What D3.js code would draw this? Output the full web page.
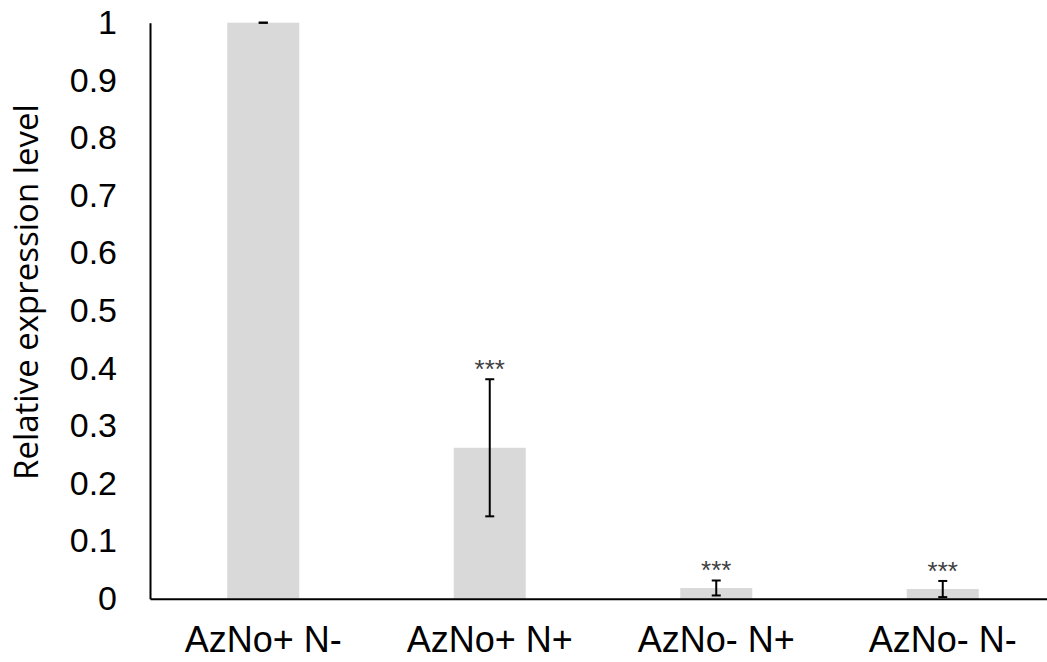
<!DOCTYPE html>
<html>
<head>
<script src="https://cdnjs.cloudflare.com/ajax/libs/d3/7.8.5/d3.min.js"></script>
<style>
    body { margin: 0; background: #fff; }
    svg { display: block; }
</style>
</head>
<body>
<script>
    // values
    var categories = ["AzNo+ N-", "AzNo+ N+", "AzNo- N+", "AzNo- N-"];
    var values = [1, 0.262, 0.0186, 0.0168];
    var errors = [0, 0.119, 0.013, 0.014];
    var marks = ["", "***", "***", "***"];
    var yTicks = [0, 0.1, 0.2, 0.3, 0.4, 0.5, 0.6, 0.7, 0.8, 0.9, 1];

    var width = 1047, height = 662;
    var plotLeft = 150, plotRight = 1056, plotTop = 22.7, plotBottom = 598.7;

    var svg = d3.select("body").append("svg")
        .attr("width", width)
        .attr("height", height);

    var x = d3.scaleBand()
        .domain(categories)
        .range([plotLeft, plotRight])
        .paddingInner(0.682)
        .paddingOuter(0.341);

    var y = d3.scaleLinear()
        .domain([0, 1])
        .range([plotBottom, plotTop]);

    function cx(i) { return x(categories[i]) + x.bandwidth() / 2; }

    // bars
    svg.selectAll("rect.bar")
        .data(values)
        .enter().append("rect")
        .attr("class", "bar")
        .attr("x", (d, i) => x(categories[i]))
        .attr("y", d => y(d))
        .attr("width", x.bandwidth())
        .attr("height", d => y(0) - y(d))
        .attr("fill", "#d9d9d9");

    // error bars
    var cap = 9;
    var eb = svg.selectAll("g.err")
        .data(values)
        .enter().append("g")
        .attr("class", "err")
        .attr("stroke", "#000")
        .attr("stroke-width", 2);

    eb.append("line")
        .attr("x1", (d, i) => cx(i))
        .attr("x2", (d, i) => cx(i))
        .attr("y1", (d, i) => y(d + errors[i]))
        .attr("y2", (d, i) => y(d - errors[i]));

    eb.append("line")
        .attr("x1", (d, i) => cx(i) - cap / 2)
        .attr("x2", (d, i) => cx(i) + cap / 2)
        .attr("y1", (d, i) => y(d + errors[i]))
        .attr("y2", (d, i) => y(d + errors[i]));

    eb.append("line")
        .attr("x1", (d, i) => cx(i) - cap / 2)
        .attr("x2", (d, i) => cx(i) + cap / 2)
        .attr("y1", (d, i) => y(d - errors[i]))
        .attr("y2", (d, i) => y(d - errors[i]));

    // significance stars
    svg.selectAll("text.star")
        .data(values)
        .enter().append("text")
        .attr("class", "star")
        .attr("x", (d, i) => cx(i))
        .attr("y", (d, i) => y(d + errors[i]) - 1)
        .attr("text-anchor", "middle")
        .attr("font-family", "'Liberation Sans', Arial, sans-serif")
        .attr("font-size", 26)
        .attr("fill", "#404040")
        .text((d, i) => marks[i]);

    // axes
    var yAxis = svg.append("g")
        .attr("transform", "translate(" + plotLeft + ",0)")
        .call(d3.axisLeft(y).tickValues(yTicks).tickSize(0).tickPadding(33)
            .tickFormat(d3.format("")));

    var xAxis = svg.append("g")
        .attr("transform", "translate(0," + plotBottom + ")")
        .call(d3.axisBottom(x).tickSize(0).tickPadding(28));

    [yAxis, xAxis].forEach(function (g) {
        g.select(".domain").attr("stroke", "#000").attr("stroke-width", 2);
        g.selectAll("text")
            .attr("fill", "#000")
            .attr("font-family", "'Liberation Sans', Arial, sans-serif");
    });
    yAxis.selectAll("text").attr("font-size", 34);
    xAxis.selectAll("text").attr("font-size", 36).attr("dy", "0.71em");

    // axis title
    svg.append("text")
        .attr("transform", "translate(38,292) rotate(-90)")
        .attr("text-anchor", "middle")
        .attr("font-family", "'Open Sans', sans-serif")
        .attr("font-size", 33)
        .attr("fill", "#000")
        .text("Relative expression level");
</script>
</body>
</html>
